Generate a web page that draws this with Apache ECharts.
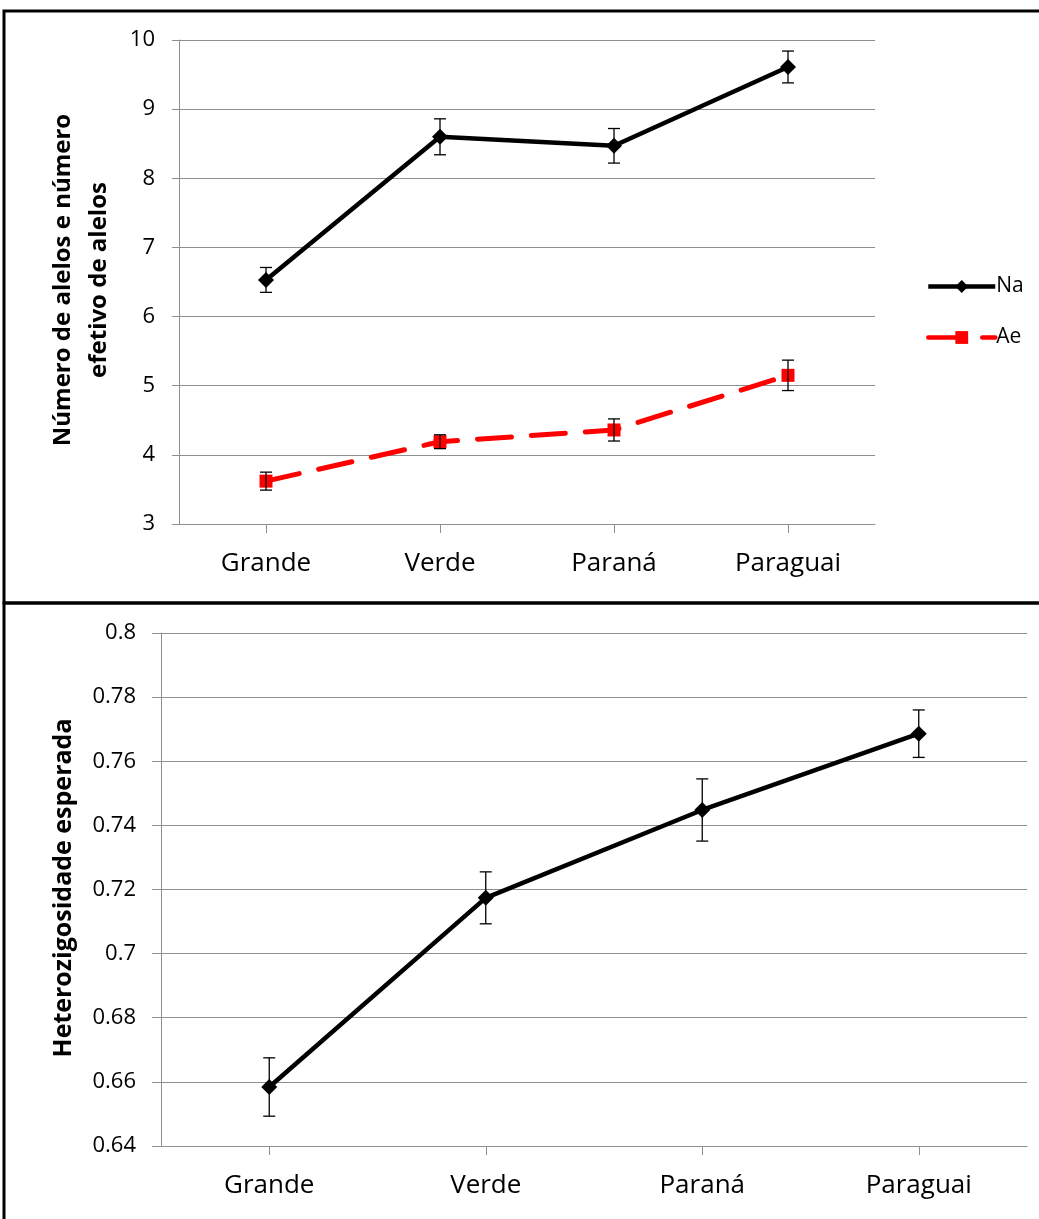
<!DOCTYPE html>
<html>
<head>
<meta charset="utf-8">
<script src="https://cdn.jsdelivr.net/npm/echarts@6/dist/echarts.min.js"></script>
<style>
html,body{margin:0;padding:0;background:#fff;}
#chart{width:1039px;height:1219px;}
</style>
</head>
<body>
<div id="chart"></div>
<script>
const categories = ['Grande', 'Verde', 'Paraná', 'Paraguai'];
const naValues = [6.53, 8.60, 8.47, 9.61];
const naErr = [0.18, 0.26, 0.25, 0.23];
const aeValues = [3.62, 4.19, 4.36, 5.15];
const aeErr = [0.13, 0.10, 0.16, 0.22];
const heValues = [0.6584, 0.7174, 0.7448, 0.7686];
const heErr = [0.0091, 0.0081, 0.0097, 0.0074];
const topTicks = {min: 3, max: 10, interval: 1};
const bottomTicks = {min: 0.64, max: 0.8, interval: 0.02};

const FONT = 'Open Sans';
const GRID_COLOR = '#8f8f8f';
const AE_DASH = [34, 20];

function errorSeries(values, errs, xIdx, yIdx) {
  return {
    type: 'custom',
    xAxisIndex: xIdx,
    yAxisIndex: yIdx,
    z: 5,
    silent: true,
    data: values.map((v, i) => [i, v, errs[i]]),
    renderItem: function (params, api) {
      const x = api.value(0), y = api.value(1), e = api.value(2);
      const hi = api.coord([x, y + e]);
      const lo = api.coord([x, y - e]);
      const w = 6;
      const st = {stroke: '#000', lineWidth: 1.3};
      return {
        type: 'group',
        children: [
          {type: 'line', shape: {x1: hi[0], y1: hi[1], x2: lo[0], y2: lo[1]}, style: st},
          {type: 'line', shape: {x1: hi[0] - w, y1: hi[1], x2: hi[0] + w, y2: hi[1]}, style: st},
          {type: 'line', shape: {x1: lo[0] - w, y1: lo[1], x2: lo[0] + w, y2: lo[1]}, style: st}
        ]
      };
    }
  };
}

const chart = echarts.init(document.getElementById('chart'), null, {renderer: 'canvas'});

const option = {
  backgroundColor: '#fff',
  animation: false,
  grid: [
    {left: 179, top: 40, width: 696, height: 484},
    {left: 161, top: 633, width: 866, height: 513}
  ],
  xAxis: [0, 1].map(i => ({
    type: 'category',
    gridIndex: i,
    data: categories,
    boundaryGap: true,
    axisLine: {lineStyle: {color: GRID_COLOR, width: 1}},
    axisTick: {show: true, alignWithLabel: true, length: 9, lineStyle: {color: GRID_COLOR}},
    axisLabel: {color: '#000', fontFamily: FONT, fontSize: 26, margin: 27}
  })),
  yAxis: [
    {
      type: 'value', gridIndex: 0,
      min: topTicks.min, max: topTicks.max, interval: topTicks.interval,
      axisLine: {show: true, lineStyle: {color: GRID_COLOR}},
      axisTick: {show: true, length: 7, lineStyle: {color: GRID_COLOR}},
      splitLine: {lineStyle: {color: GRID_COLOR, width: 1}},
      axisLabel: {color: '#000', fontFamily: FONT, fontSize: 22, margin: 24}
    },
    {
      type: 'value', gridIndex: 1,
      min: bottomTicks.min, max: bottomTicks.max, interval: bottomTicks.interval,
      axisLine: {show: true, lineStyle: {color: GRID_COLOR}},
      axisTick: {show: true, length: 9, lineStyle: {color: GRID_COLOR}},
      splitLine: {lineStyle: {color: GRID_COLOR, width: 1}},
      axisLabel: {
        color: '#000', fontFamily: FONT, fontSize: 22, margin: 25,
        formatter: v => String(parseFloat(Number(v).toFixed(2)))
      }
    }
  ],
  legend: {
    orient: 'vertical',
    left: 921,
    top: 271,
    itemWidth: 67,
    itemHeight: 16,
    itemGap: 30,
    data: [
      {name: 'Na', lineStyle: {width: 4.5, color: '#000'}},
      {name: 'Ae', lineStyle: {width: 4.5, color: '#ff0000', type: AE_DASH, cap: 'round'}}
    ],
    textStyle: {color: '#000', fontFamily: FONT, fontSize: 21, padding: [0, 0, 0, -4]}
  },
  series: [
    {
      name: 'Na', type: 'line', xAxisIndex: 0, yAxisIndex: 0,
      data: naValues,
      symbol: 'diamond', symbolSize: 16,
      itemStyle: {color: '#000'},
      lineStyle: {color: '#000', width: 4.5},
      z: 3
    },
    {
      name: 'Ae', type: 'line', xAxisIndex: 0, yAxisIndex: 0,
      data: aeValues,
      symbol: 'rect', symbolSize: 13,
      itemStyle: {color: '#ff0000'},
      lineStyle: {color: '#ff0000', width: 5, type: AE_DASH, cap: 'round'},
      z: 3
    },
    errorSeries(naValues, naErr, 0, 0),
    errorSeries(aeValues, aeErr, 0, 0),
    {
      name: 'He', type: 'line', xAxisIndex: 1, yAxisIndex: 1,
      data: heValues,
      symbol: 'diamond', symbolSize: 16,
      itemStyle: {color: '#000'},
      lineStyle: {color: '#000', width: 4.5},
      z: 3
    },
    errorSeries(heValues, heErr, 1, 1)
  ],
  graphic: [
    {type: 'rect', shape: {x: 4, y: 11, width: 1050, height: 592}, style: {fill: 'none', stroke: '#000', lineWidth: 3}, z: 100},
    {type: 'rect', shape: {x: 4, y: 603, width: 1050, height: 630}, style: {fill: 'none', stroke: '#000', lineWidth: 3}, z: 100},
    {type: 'text', x: 63, y: 280, rotation: Math.PI / 2,
      style: {text: 'Número de alelos e número', fontFamily: FONT, fontWeight: 'bold', fontSize: 24, fill: '#000', align: 'center', verticalAlign: 'middle'}},
    {type: 'text', x: 99, y: 280, rotation: Math.PI / 2,
      style: {text: 'efetivo de alelos', fontFamily: FONT, fontWeight: 'bold', fontSize: 24, fill: '#000', align: 'center', verticalAlign: 'middle'}},
    {type: 'text', x: 64, y: 888, rotation: Math.PI / 2,
      style: {text: 'Heterozigosidade esperada', fontFamily: FONT, fontWeight: 'bold', fontSize: 25, fill: '#000', align: 'center', verticalAlign: 'middle'}}
  ]
};
chart.setOption(option);
</script>
</body>
</html>
